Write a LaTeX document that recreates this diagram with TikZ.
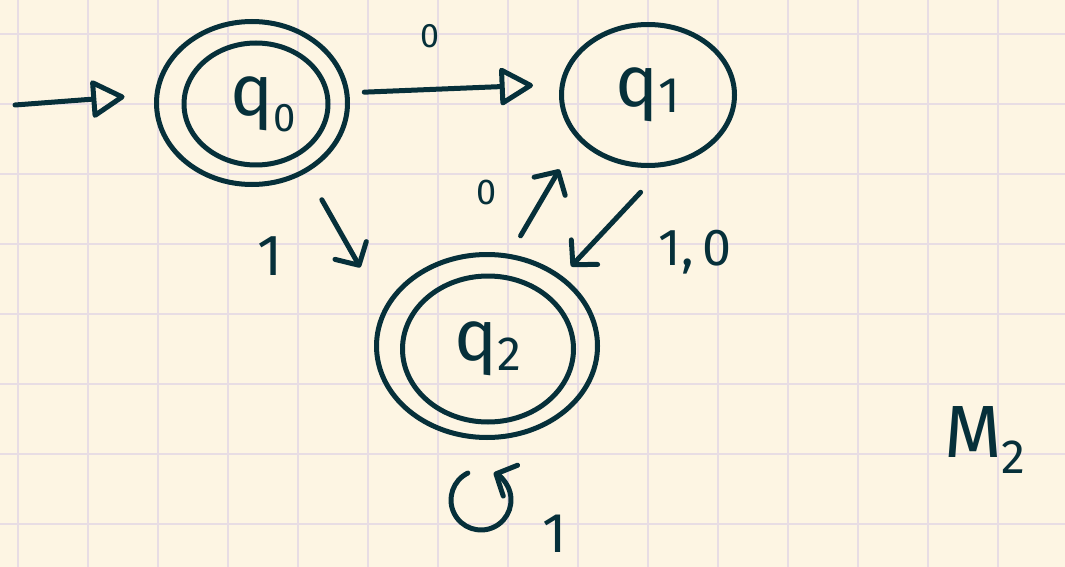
\documentclass[tikz,border=0pt]{standalone}
\usepackage{fontspec}
\setmainfont{Fira Sans}
\usetikzlibrary{shapes.geometric,arrows.meta}
\definecolor{paper}{HTML}{FDF5E3}
\definecolor{gridc}{HTML}{E8DDE4}
\definecolor{inkc}{HTML}{06303A}
\begin{document}
\begin{tikzpicture}[x=1pt,y=-1pt,
  ink/.style={draw=inkc, line width=5pt, line cap=round, line join=round},
  state/.style={ellipse, ink, inner sep=0pt, text=inkc, font=\fontsize{72}{72}\selectfont},
  opentip/.style={-{Triangle[open, length=36pt, width=40pt, round]}},
  barbtip/.style={-{Straight Barb[length=17pt, width=36pt, round]}},
  lab/.style={text=inkc, inner sep=0pt}
]
\fill[paper] (0,0) rectangle (1065,567);
\useasboundingbox (0,0) rectangle (1065,567);
\foreach \k in {0,...,14} \draw[gridc, line width=1.4pt] (18+70*\k,0) -- (18+70*\k,567);
\foreach \k in {0,...,7} \draw[gridc, line width=1.4pt] (0,34+70*\k) -- (1065,34+70*\k);

% states
\node[state, minimum width=191pt, minimum height=163pt] (q0o) at (252,103) {};
\node[state, minimum width=144pt, minimum height=122pt] (q0) at (256,104) {\hspace{14pt}q\raisebox{-16pt}{\fontsize{40}{40}\selectfont 0}};
\node[state, minimum width=173pt, minimum height=141pt] (q1) at (648,95) {q\raisebox{-6pt}{\fontsize{50}{50}\selectfont 1}};
\node[state, minimum width=221pt, minimum height=183pt] (q2o) at (487,346) {};
\node[state, minimum width=171pt, minimum height=146pt] (q2) at (488,349) {q\raisebox{-10pt}{\fontsize{48}{48}\selectfont 2}};

% initial arrow
\coordinate (start) at (15,105);
\draw[ink, opentip, shorten >=30pt] (start) -- (q0o.175);

% transitions
\draw[ink, opentip, shorten <=15pt, shorten >=27pt] (q0o.6) -- (q1.173);
\draw[ink, barbtip, shorten <=31pt, shorten >=47pt] (q0o.-52) -- (q2o.160);
\draw[ink, barbtip, shorten <=21pt, shorten >=35pt] (q2o.76) -- (q1.212);
\draw[ink, barbtip, shorten <=35pt, shorten >=13pt] (q1.-77) -- (q2o.43);

% self loop
\coordinate (loopc) at (481,500);
\draw[ink, -{Straight Barb[length=16pt, width=34pt, round]}] ([shift={(-116:30)}]loopc) arc[start angle=-116, end angle=-425, radius=30];

% labels
\node[lab, font=\fontsize{34}{34}\selectfont] (l01) at (430,36) {0};
\node[lab, font=\fontsize{58}{58}\selectfont] (l02) at (270,256) {1};
\node[lab, font=\fontsize{36}{36}\selectfont] (l21) at (487,192) {0};
\node[lab, font=\fontsize{52}{52}\selectfont] (l12) at (695,252) {1,\,0};
\node[lab, font=\fontsize{56}{56}\selectfont] (l22) at (555,534) {1};
\node[lab, font=\fontsize{74}{74}\selectfont] (m2) at (985,440) {M\raisebox{-16pt}{\fontsize{48}{48}\selectfont 2}};
\end{tikzpicture}
\end{document}
